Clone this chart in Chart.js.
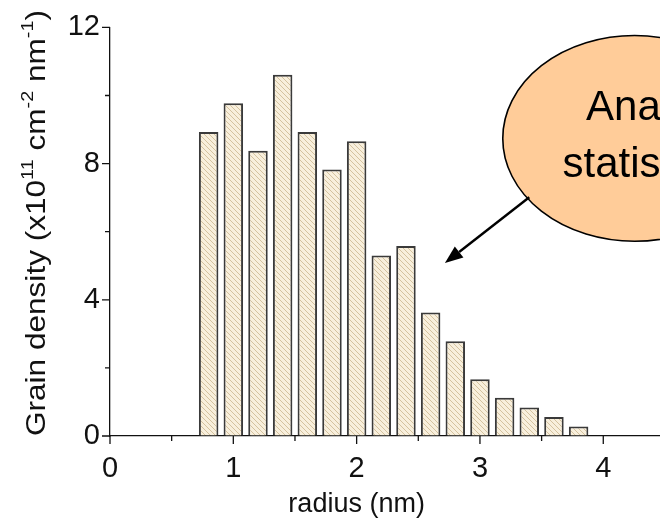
<!DOCTYPE html>
<html lang="en">
<head>
    <meta charset="UTF-8">
    <title>Grain density vs radius</title>
    <script src="https://cdn.jsdelivr.net/npm/chart.js"></script>
    <style>
        body, html {
            margin: 0;
            padding: 0;
            background: #fff;
        }
    </style>
</head>
<body>
    <canvas id="grainChart" width="660" height="528"></canvas>
    <script>
        // histogram bins (nm) and grain density (x10^11 cm^-2 nm^-1)
        const radius = [0.8, 1.0, 1.2, 1.4, 1.6, 1.8, 2.0, 2.2, 2.4, 2.6, 2.8, 3.0, 3.2, 3.4, 3.6, 3.8];
        const density = [8.93, 9.77, 8.38, 10.61, 8.93, 7.83, 8.66, 5.30, 5.58, 3.63, 2.78, 1.67, 1.12, 0.84, 0.56, 0.28];

        const xTicks = [0, 1, 2, 3, 4];
        const xMinorTicks = [0.5, 1.5, 2.5, 3.5];
        const yTicks = [0, 4, 8, 12];
        const yMinorTicks = [2, 6, 10];

        const xTitle = 'radius (nm)';
        // [text, superscript?]
        const yTitleParts = [
            ['Grain density (x10', false], ['11', true],
            [' cm', false], ['-2', true],
            [' nm', false], ['-1', true],
            [')', false]
        ];
        const calloutLines = ['Ana', 'statis'];

        const FONT = '"Liberation Sans", Arial, sans-serif';
        const ctx = document.getElementById('grainChart').getContext('2d');

        // cream fill with thin diagonal hatch
        function makeHatch() {
            const s = 5;
            const c = document.createElement('canvas');
            c.width = s; c.height = s;
            const g = c.getContext('2d');
            g.fillStyle = '#f8efdc';
            g.fillRect(0, 0, s, s);
            g.strokeStyle = '#d4c29f';
            g.lineWidth = 1;
            g.beginPath();
            g.moveTo(-1, -1); g.lineTo(s + 1, s + 1);
            g.moveTo(-1, s - 1); g.lineTo(1, s + 1);
            g.moveTo(s - 1, -1); g.lineTo(s + 1, 1);
            g.stroke();
            return ctx.createPattern(c, 'repeat');
        }

        const decor = {
            id: 'decor',
            afterDraw(chart) {
                const c = chart.ctx;
                const x = chart.scales.x, y = chart.scales.y;
                c.save();

                // tick marks, outward
                c.strokeStyle = '#111';
                c.lineWidth = 1.3;
                c.beginPath();
                xTicks.forEach(v => { const p = x.getPixelForValue(v); c.moveTo(p, y.bottom); c.lineTo(p, y.bottom + 8); });
                xMinorTicks.forEach(v => { const p = x.getPixelForValue(v); c.moveTo(p, y.bottom); c.lineTo(p, y.bottom + 5); });
                yTicks.forEach(v => { const p = y.getPixelForValue(v); c.moveTo(x.left, p); c.lineTo(x.left - 8, p); });
                yMinorTicks.forEach(v => { const p = y.getPixelForValue(v); c.moveTo(x.left, p); c.lineTo(x.left - 5, p); });
                c.stroke();

                // x title
                c.fillStyle = '#111';
                c.font = '27px ' + FONT;
                c.textAlign = 'center';
                c.textBaseline = 'middle';
                c.fillText(xTitle, x.getPixelForValue(2), 505);

                // y title with superscripts, rotated
                const big = 27, small = 17;
                let total = 0;
                yTitleParts.forEach(([t, sup]) => {
                    c.font = (sup ? small : big) + 'px ' + FONT;
                    total += c.measureText(t).width;
                });
                const span = 426;
                c.translate(45, 223);
                c.rotate(-Math.PI / 2);
                c.scale(span / total, 1);
                c.textAlign = 'left';
                c.textBaseline = 'alphabetic';
                let pos = -total / 2;
                yTitleParts.forEach(([t, sup]) => {
                    c.font = (sup ? small : big) + 'px ' + FONT;
                    c.fillText(t, pos, sup ? -12 : 0);
                    pos += c.measureText(t).width;
                });
                c.restore();

                // callout ellipse and arrow
                c.save();
                const cx = x.getPixelForValue(4.254), cy = y.getPixelForValue(8.74);
                const rx = x.getPixelForValue(4.254 + 1.069) - cx;
                const ry = y.getPixelForValue(8.74) - y.getPixelForValue(8.74 + 3.02);
                c.beginPath();
                c.ellipse(cx, cy, rx, ry, 0, 0, Math.PI * 2);
                c.fillStyle = '#ffcc99';
                c.fill();
                c.strokeStyle = '#000';
                c.lineWidth = 1.6;
                c.stroke();

                c.fillStyle = '#000';
                c.font = '42px ' + FONT;
                c.textAlign = 'left';
                c.textBaseline = 'alphabetic';
                c.fillText(calloutLines[0], x.getPixelForValue(3.86), y.getPixelForValue(9.27));
                c.fillText(calloutLines[1], x.getPixelForValue(3.67), y.getPixelForValue(7.60));

                const x0 = x.getPixelForValue(3.40), y0 = y.getPixelForValue(7.01);
                const x1 = x.getPixelForValue(2.716), y1 = y.getPixelForValue(5.08);
                const ang = Math.atan2(y1 - y0, x1 - x0);
                const head = 18, half = 7;
                const bx = x1 - head * Math.cos(ang), by = y1 - head * Math.sin(ang);
                c.lineWidth = 2.4;
                c.beginPath();
                c.moveTo(x0, y0);
                c.lineTo(bx, by);
                c.stroke();
                c.beginPath();
                c.moveTo(x1, y1);
                c.lineTo(bx + half * Math.sin(ang), by - half * Math.cos(ang));
                c.lineTo(bx - half * Math.sin(ang), by + half * Math.cos(ang));
                c.closePath();
                c.fill();
                c.restore();
            }
        };

        new Chart(ctx, {
            type: 'bar',
            data: {
                datasets: [{
                    data: radius.map((r, i) => ({ x: r, y: density[i] })),
                    backgroundColor: makeHatch(),
                    borderColor: '#3a3a3a',
                    borderWidth: 2,
                    barPercentage: 0.79,
                    categoryPercentage: 1
                }]
            },
            options: {
                responsive: false,
                animation: false,
                layout: { padding: { top: 27, right: 0, bottom: 0, left: 0 } },
                plugins: {
                    legend: { display: false },
                    tooltip: { enabled: false }
                },
                scales: {
                    x: {
                        type: 'linear',
                        min: 0,
                        max: 4.46,
                        offset: false,
                        afterBuildTicks: s => { s.ticks = xTicks.map(v => ({ value: v })); },
                        afterFit: s => { s.height = 92; },
                        grid: { display: true, drawOnChartArea: false, drawTicks: false },
                        border: { display: true, color: '#111', width: 1.3 },
                        ticks: { padding: 16, color: '#111', maxRotation: 0, font: { family: FONT, size: 29 } }
                    },
                    y: {
                        min: 0,
                        max: 12,
                        afterBuildTicks: s => { s.ticks = yTicks.map(v => ({ value: v })); },
                        afterFit: s => { s.width = 110; },
                        grid: { display: true, drawOnChartArea: false, drawTicks: false },
                        border: { display: true, color: '#111', width: 1.3 },
                        ticks: { padding: 10, color: '#111', font: { family: FONT, size: 29 } }
                    }
                }
            },
            plugins: [decor]
        });
    </script>
</body>
</html>
